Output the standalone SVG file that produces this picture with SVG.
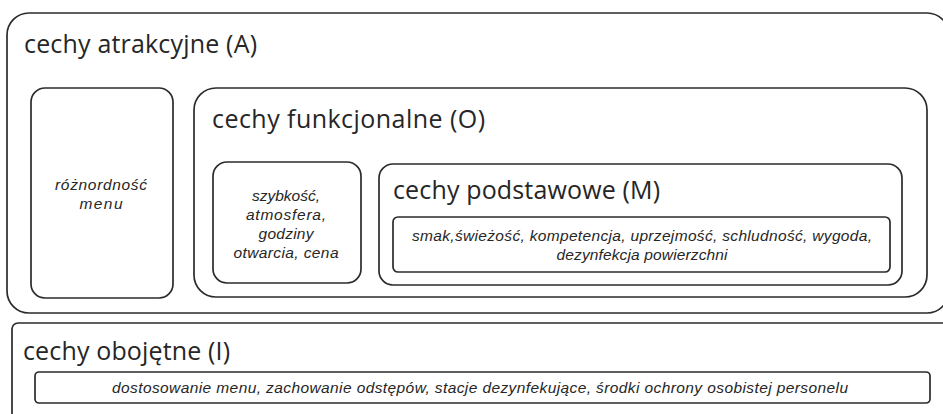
<svg xmlns="http://www.w3.org/2000/svg" width="943" height="414" viewBox="0 0 943 414">
<style>
.box{fill:none;stroke:#2b2b2b;stroke-width:1.7}
.title{font-family:"Open Sans","Liberation Sans",sans-serif;font-size:25px;fill:#262626}
.it{font-family:"Liberation Sans","Open Sans",sans-serif;font-style:italic;font-size:15.5px;fill:#262626;text-anchor:middle}
</style>
<rect width="943" height="414" fill="#ffffff"/>
<g id="node-A">
<rect class="box" x="7" y="13" width="942" height="300" rx="22"/>
<text class="title" x="24" y="53" textLength="233">cechy atrakcyjne (A)</text>
</g>
<g id="node-menu">
<rect class="box" x="31" y="88" width="142" height="210" rx="14"/>
<text class="it" x="101" y="190" textLength="92">różnordność</text>
<text class="it" x="101" y="209" textLength="43">menu</text>
</g>
<g id="node-O">
<rect class="box" x="194" y="88" width="733" height="209" rx="22"/>
<text class="title" x="212" y="128" textLength="273">cechy funkcjonalne (O)</text>
</g>
<g id="node-O-list">
<rect class="box" x="213" y="162" width="148" height="121" rx="14"/>
<text class="it" x="286" y="201">szybkość,</text>
<text class="it" x="286" y="220" textLength="80">atmosfera,</text>
<text class="it" x="286" y="239" textLength="55">godziny</text>
<text class="it" x="286" y="258" textLength="105">otwarcia, cena</text>
</g>
<g id="node-M">
<rect class="box" x="379" y="164" width="523" height="121" rx="14"/>
<text class="title" x="393" y="199" textLength="267">cechy podstawowe (M)</text>
</g>
<g id="node-M-list">
<rect class="box" x="393" y="217" width="497" height="55" rx="5"/>
<text class="it" x="642" y="241" textLength="460">smak,świeżość, kompetencja, uprzejmość, schludność, wygoda,</text>
<text class="it" x="642" y="260" textLength="171">dezynfekcja powierzchni</text>
</g>
<g id="node-I">
<rect class="box" x="12" y="323" width="945" height="110" rx="6"/>
<text class="title" x="23" y="360" textLength="207">cechy obojętne (I)</text>
</g>
<g id="node-I-list">
<rect class="box" x="35" y="372" width="895" height="31" rx="4"/>
<text class="it" x="480" y="393" textLength="736">dostosowanie menu, zachowanie odstępów, stacje dezynfekujące, środki ochrony osobistej personelu</text>
</g>
<g id="connectors"></g>
</svg>
